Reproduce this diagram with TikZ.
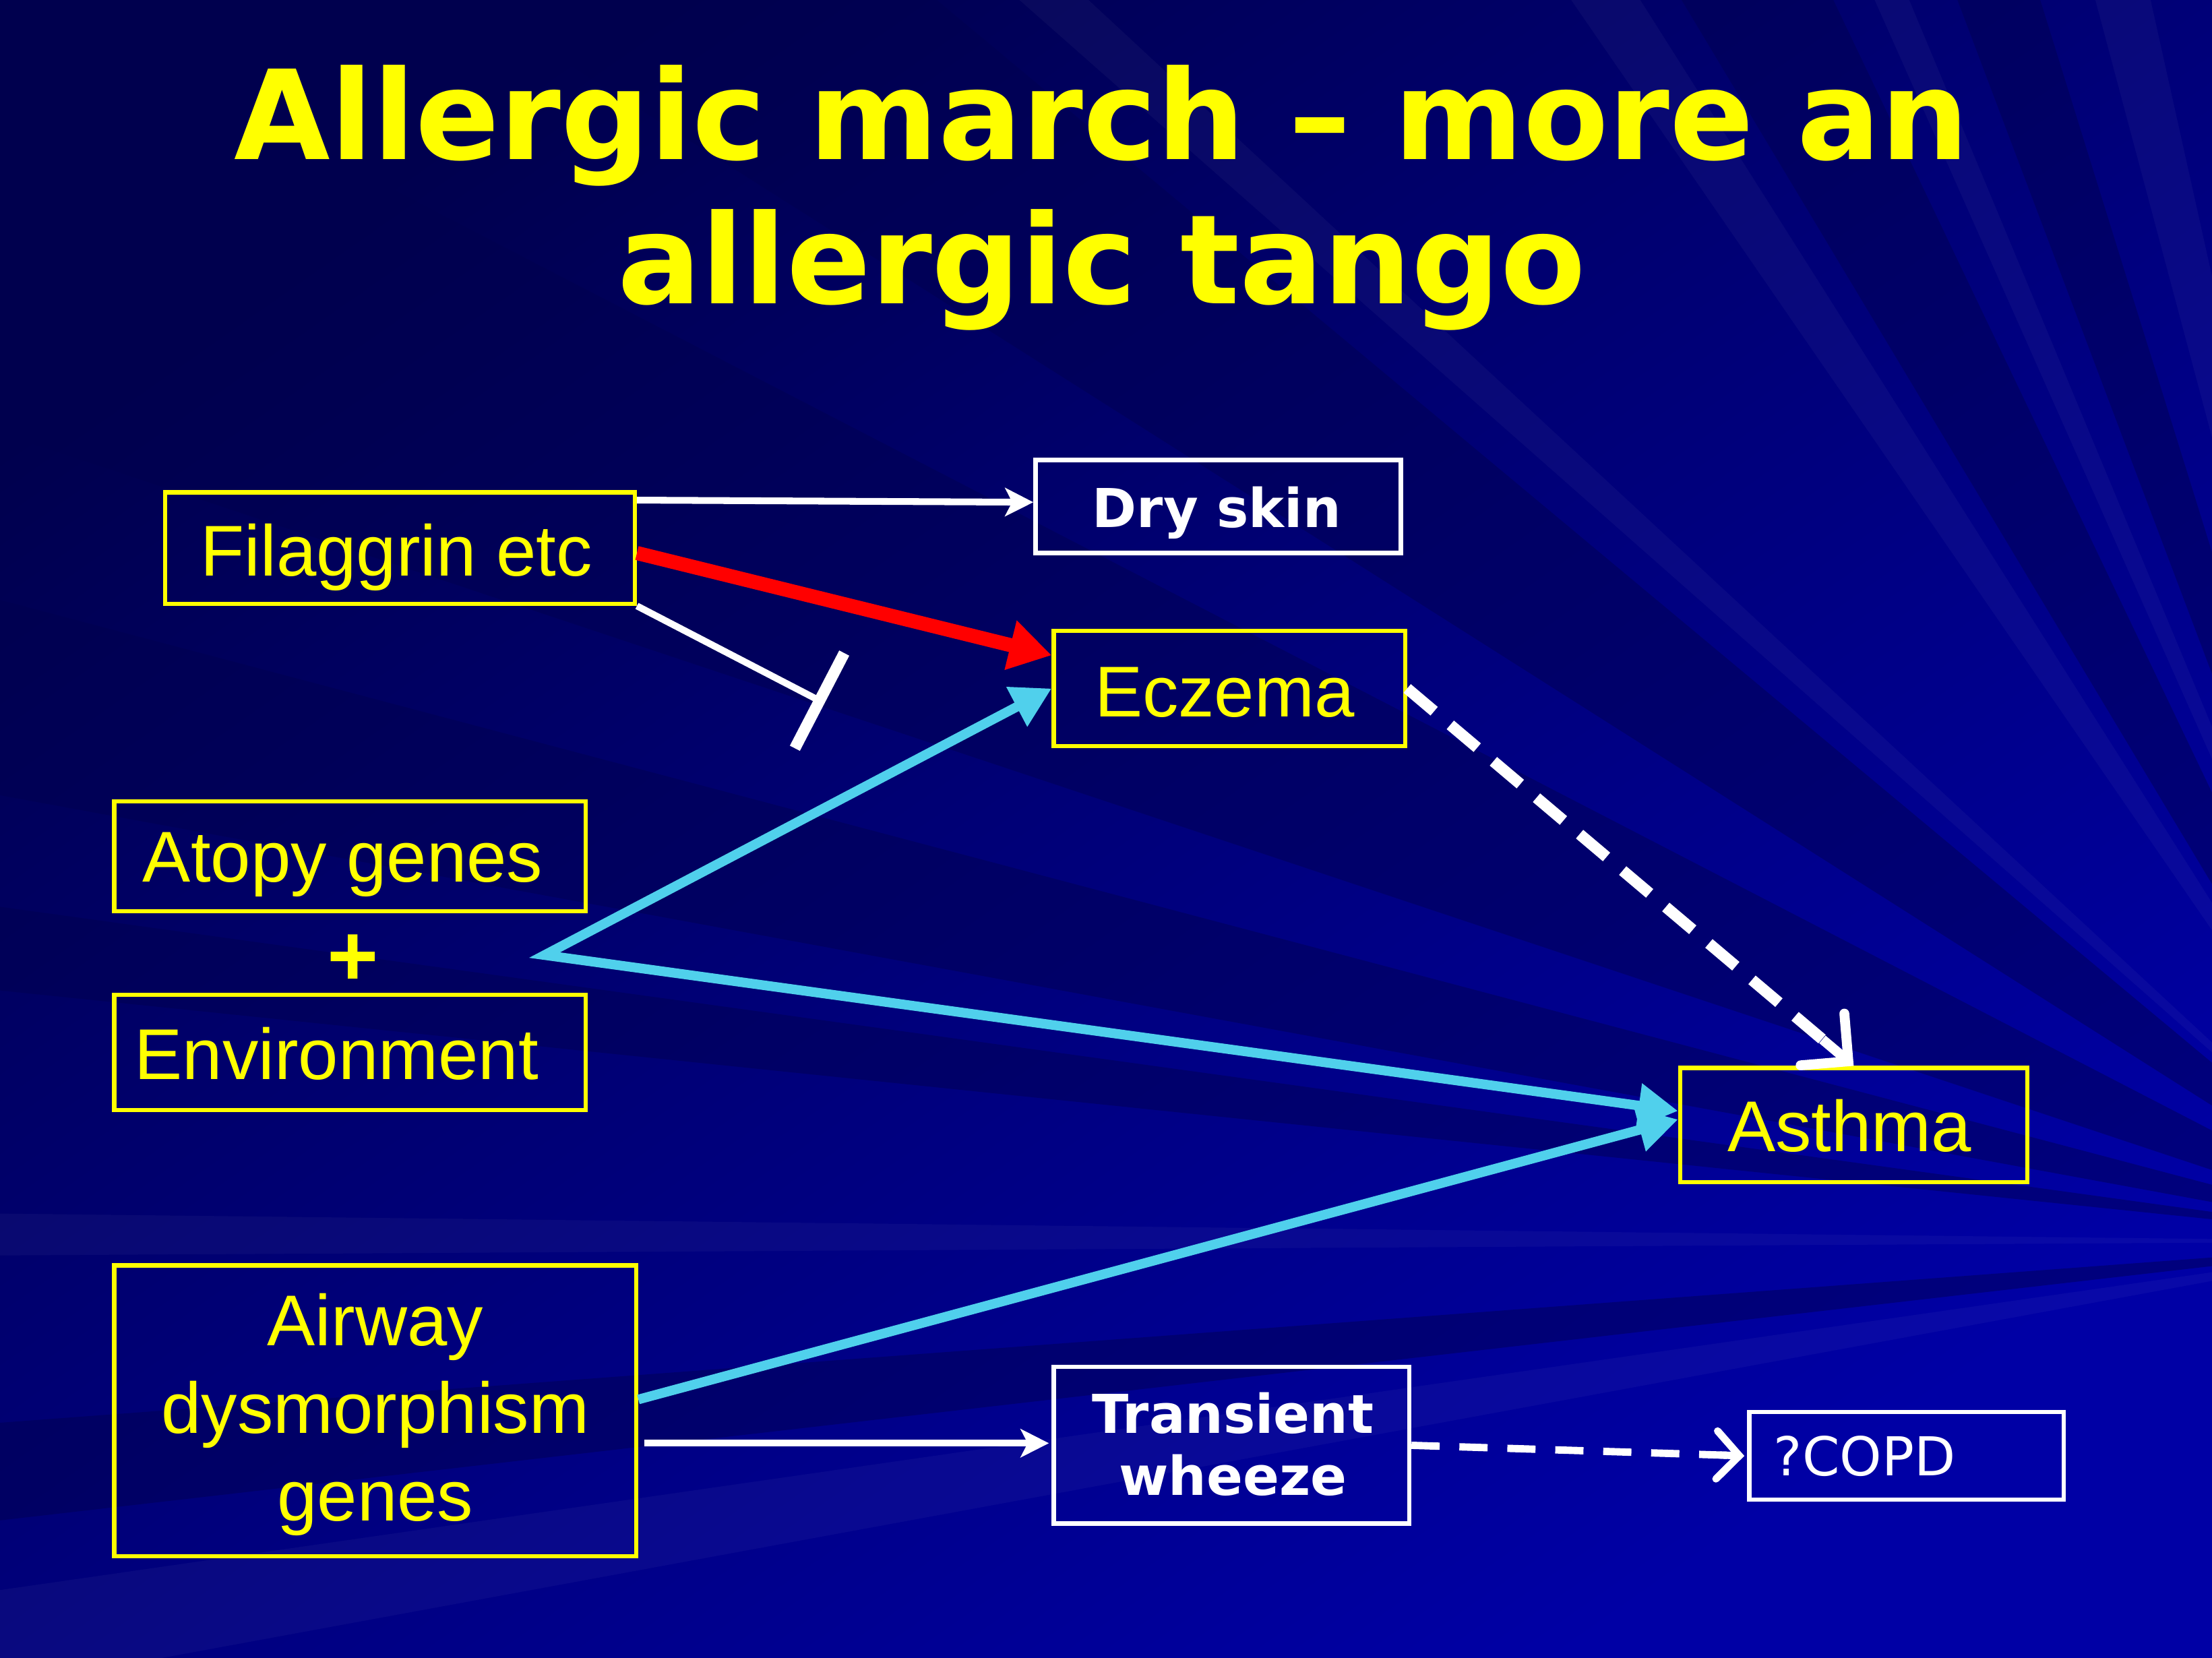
\documentclass[tikz,border=0pt]{standalone}
\usepackage{fontspec}
\setmainfont{Liberation Sans}
\newfontfamily\djv{DejaVu Sans}
\newfontfamily\djvplus[FakeBold=2.5]{DejaVu Sans}
\usetikzlibrary{arrows.meta,calc}
\definecolor{ylw}{RGB}{255,255,0}
\definecolor{cyn}{RGB}{80,208,236}
\definecolor{redA}{RGB}{255,0,0}
\definecolor{bgdark}{RGB}{0,0,78}
\definecolor{bglight}{RGB}{0,0,165}
\begin{document}
\begin{tikzpicture}[x=0.5pt,y=-0.5pt,
  ybox/.style={draw=ylw, line width=1.5pt, inner sep=0pt},
  wbox/.style={draw=white, line width=1.5pt, inner sep=0pt},
  ytext/.style={text=ylw, font=\fontsize{25.5}{31}\selectfont, inner sep=0pt, anchor=base},
  wtext/.style={text=white, font=\djv\bfseries\fontsize{19}{22}\selectfont, inner sep=0pt, anchor=base},
  thinarrow/.style={draw=white, line width=2.4pt, -{Stealth[length=10pt,width=10pt,inset=2.5pt]}},
  cyanline/.style={draw=cyn, line width=3.4pt, line join=miter},
  ray/.style={fill=bgdark, opacity=0.45},
  lightray/.style={fill=white, opacity=0.035}
]
% ---------- background ----------
\useasboundingbox (0,0) rectangle (1568,1175);
\shade[top color=bgdark, bottom color=bglight, shading angle=35] (0,0) rectangle (1568,1175);
\coordinate (O) at (1720,880);
\begin{scope}
\clip (0,0) rectangle (1568,1175);
\fill[ray] (O) -- (-20,-20) -- (-20,300) -- cycle;
\fill[ray] (O) -- (-20,420) -- (-20,560) -- cycle;
\fill[ray] (O) -- (-20,640) -- (-20,700) -- cycle;
\fill[ray] (O) -- (300,-20) -- (640,-20) -- cycle;
\fill[ray] (O) -- (1180,-20) -- (1290,-20) -- cycle;
\fill[ray] (O) -- (1380,-20) -- (1440,-20) -- cycle;
\fill[ray] (O) -- (-20,1010) -- (-20,1080) -- cycle;
\fill[lightray] (O) -- (-20,860) -- (-20,890) -- cycle;
\fill[lightray] (O) -- (-20,1130) -- (-20,1200) -- cycle;
\fill[lightray] (O) -- (1100,-20) -- (1150,-20) -- cycle;
\fill[lightray] (O) -- (1320,-20) -- (1345,-20) -- cycle;
\fill[lightray] (O) -- (1480,-20) -- (1520,-20) -- cycle;
\fill[lightray] (O) -- (700,-20) -- (750,-20) -- cycle;
\end{scope}

% ---------- title ----------
\node[text=ylw, font=\djv\bfseries\fontsize{44}{51}\selectfont, inner sep=0pt, anchor=base] (title) at (781,215)
  {\begin{tabular}[b]{@{}c@{}}Allergic march – more an\\allergic tango\end{tabular}};

% ---------- boxes ----------
\node[ybox, minimum width=166.5pt, minimum height=39.5pt] (fil) at (283.5,388.5) {};
\node[wbox, minimum width=129.5pt, minimum height=33pt] (dry) at (863.5,359) {};
\node[ybox, minimum width=124.5pt, minimum height=41pt] (ecz) at (871.5,488) {};
\node[ybox, minimum width=167pt, minimum height=39pt] (ato) at (248,607) {};
\node[ybox, minimum width=167pt, minimum height=41pt] (env) at (248,746) {};
\node[ybox, minimum width=123pt, minimum height=40.5pt] (ast) at (1314,797.5) {};
\node[ybox, minimum width=185pt, minimum height=103pt] (air) at (266,1000) {};
\node[wbox, minimum width=126pt, minimum height=55.5pt] (tra) at (873,1024.5) {};
\node[wbox, minimum width=111.5pt, minimum height=31pt] (cop) at (1351.5,1032) {};

% ---------- texts ----------
\node[ytext] (filt) at (281,408) {Filaggrin etc};
\node[wtext] (dryt) at (862.5,374) {Dry skin};
\node[ytext] (eczt) at (868,508) {Eczema};
\node[ytext] (atot) at (243,625) {Atopy genes};
\node[text=ylw, font=\djvplus\bfseries\fontsize{24}{24}\selectfont, inner sep=0pt] (plus) at (250,678) {+};
\node[ytext, anchor=base west] (envt) at (95,765) {Environment};
\node[ytext] (astt) at (1311,816) {Asthma};
\node[ytext] (airt) at (266,1078) {\begin{tabular}[b]{@{}c@{}}Airway\\dysmorphism\\genes\end{tabular}};
\node[wtext] (trat) at (874,1060) {\begin{tabular}[b]{@{}c@{}}Transient\\wheeze\end{tabular}};
\node[text=white, font=\djv\fontsize{19}{22}\selectfont, inner sep=0pt, anchor=base west] (copt) at (1257,1046) {?COPD};

% ---------- connectors ----------
\draw[thinarrow] ($(fil.north east)+(0,7)$) -- ($(dry.west)+(0,-3)$);
\draw[draw=redA, line width=5pt, -{Triangle[length=15pt,width=17pt]}]
  ($(fil.east)+(0,3.5)$) -- ($(ecz.north west)+(0,19)$);
\coordinate (inh) at (584.5,498.5);
\draw[draw=white, line width=2.4pt, -{Bar[width=38pt,line width=4pt]}] (fil.south east) -- (inh);

\coordinate (jn) at (386,677);
\draw[cyanline, {Triangle[length=14pt,width=15pt]}-{Triangle[length=14pt,width=15pt]}]
  (ecz.west) -- (jn) -- ($(ast.west)+(0,-10)$);
\draw[cyanline, -{Triangle[length=14pt,width=15pt]}] ($(air.east)+(0,-8)$) -- ($(ast.west)+(0,-4)$);

% Eczema -> Asthma (dashed, open head)
\draw[draw=white, line width=4pt, dash pattern=on 12.5pt off 7.5pt] (ecz.east) -- ($(ecz.east)!0.95!(ast.north)$);
\draw[draw=white, line width=3.5pt, -{Straight Barb[length=12pt,width=24pt,line cap=round]}]
  ($(ecz.east)!0.93!(ast.north)$) -- (ast.north);

\draw[thinarrow] ($(air.east)+(4,23)$) -- ($(tra.west)+(-2,-1.5)$);
% Transient wheeze -> ?COPD (dashed, open head)
\draw[draw=white, line width=2.6pt, dash pattern=on 10pt off 7pt] (tra.east) -- ($(tra.east)!0.95!(cop.west)$);
\draw[draw=white, line width=2.6pt, -{Straight Barb[length=8pt,width=17pt,line cap=round]}]
  ($(tra.east)!0.92!(cop.west)$) -- ($(cop.west)+(-2,0)$);
\end{tikzpicture}
\end{document}
